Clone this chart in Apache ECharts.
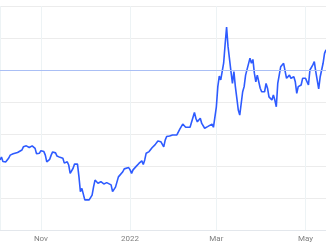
<!DOCTYPE html>
<html>
<head>
<meta charset="utf-8">
<script src="https://cdn.jsdelivr.net/npm/echarts@6/dist/echarts.min.js"></script>
<style>html,body{margin:0;padding:0;background:#fff;}#c{width:326px;height:245px;}</style>
</head>
<body>
<div id="c"></div>
<script>
var dates = [
'2021-10-04','2021-10-05','2021-10-06','2021-10-07','2021-10-08','2021-10-10','2021-10-11','2021-10-13','2021-10-14','2021-10-16',
'2021-10-17','2021-10-19','2021-10-20','2021-10-21','2021-10-22','2021-10-24','2021-10-26','2021-10-27','2021-10-28','2021-10-29',
'2021-10-30','2021-10-31','2021-11-01','2021-11-03','2021-11-04','2021-11-05','2021-11-06','2021-11-07','2021-11-08','2021-11-09',
'2021-11-11','2021-11-12','2021-11-13','2021-11-14','2021-11-16','2021-11-17','2021-11-19','2021-11-20','2021-11-21','2021-11-22',
'2021-11-23','2021-11-24','2021-11-26','2021-11-27','2021-11-28','2021-11-29','2021-12-01','2021-12-02','2021-12-04','2021-12-06',
'2021-12-07','2021-12-08','2021-12-10','2021-12-12','2021-12-14','2021-12-16','2021-12-17','2021-12-19','2021-12-20','2021-12-22',
'2021-12-24','2021-12-25','2021-12-27','2021-12-28','2021-12-31','2022-01-01','2022-01-02','2022-01-03','2022-01-05','2022-01-07',
'2022-01-09','2022-01-10','2022-01-11','2022-01-12','2022-01-14','2022-01-16','2022-01-18','2022-01-20','2022-01-22','2022-01-24',
'2022-01-25','2022-01-26','2022-01-28','2022-01-30','2022-02-02','2022-02-04','2022-02-06','2022-02-08','2022-02-09','2022-02-11',
'2022-02-12','2022-02-14','2022-02-15','2022-02-16','2022-02-18','2022-02-19','2022-02-20','2022-02-21','2022-02-23','2022-02-24',
'2022-02-26','2022-02-27','2022-03-01','2022-03-02','2022-03-03','2022-03-04','2022-03-06','2022-03-07','2022-03-08','2022-03-09',
'2022-03-11','2022-03-12','2022-03-13','2022-03-14','2022-03-15','2022-03-16','2022-03-17','2022-03-19','2022-03-20','2022-03-21',
'2022-03-22','2022-03-24','2022-03-25','2022-03-26','2022-03-27','2022-03-28','2022-03-29','2022-03-31','2022-04-01','2022-04-02',
'2022-04-03','2022-04-04','2022-04-05','2022-04-06','2022-04-08','2022-04-09','2022-04-10','2022-04-11','2022-04-12','2022-04-13',
'2022-04-14','2022-04-16','2022-04-17','2022-04-18','2022-04-20','2022-04-21','2022-04-22','2022-04-23','2022-04-24','2022-04-25',
'2022-04-26','2022-04-28','2022-04-29','2022-05-01','2022-05-03','2022-05-04','2022-05-06','2022-05-07','2022-05-08','2022-05-10',
'2022-05-11','2022-05-12','2022-05-13','2022-05-14','2022-05-15'
];
var values = [
21.9,22.8,21.4,21.9,21.3,22.5,23.4,23.8,23.4,24.2,
24.5,25.0,26.0,25.5,26.3,25.8,26.3,26.6,25.5,23.8,
23.8,24.0,24.8,24.5,23.4,21.3,20.9,22.1,23.4,24.4,
24.1,23.1,22.9,22.7,22.4,20.9,21.3,20.3,17.7,18.2,
19.3,20.6,20.6,16.7,12.0,13.0,9.4,8.8,9.4,10.9,
13.5,15.6,14.6,15.1,14.4,14.8,15.0,14.1,12.0,13.4,
16.6,16.3,18.2,19.1,19.5,18.8,17.7,18.8,19.8,20.8,
21.6,20.5,21.9,24.0,24.5,25.7,26.6,27.8,27.6,26.0,
28.1,29.2,29.4,29.7,29.7,31.5,33.1,32.1,31.5,32.1,
32.1,36.7,34.9,33.8,34.9,33.3,33.8,31.8,32.3,32.5,
33.1,32.1,38.5,44.8,48.1,46.9,52.2,58.1,63.4,57.3,
49.5,45.8,49.5,44.8,41.2,37.5,35.9,43.2,44.8,48.4,
49.0,53.7,52.1,53.3,49.0,46.3,48.4,44.3,43.2,43.8,
43.2,45.8,44.3,41.6,40.6,42.2,40.6,38.5,45.8,48.4,
51.0,52.1,52.1,47.4,48.4,47.4,46.9,47.9,46.3,42.7,
44.8,45.3,47.4,47.4,45.3,50.0,51.6,52.6,49.5,44.1,
47.8,48.4,52.1,55.2,56.3
];
var refLevel = 50;
var monthNames = ['Jan','Feb','Mar','Apr','May','Jun','Jul','Aug','Sep','Oct','Nov','Dec'];

var chart = echarts.init(document.getElementById('c'), null, {renderer: 'canvas'});
var seriesData = dates.map(function (d, i) { return [d, values[i]]; });
var DAY = 24 * 3600 * 1000;
chart.setOption({
  animation: false,
  grid: {left: 0, right: 0, top: 6, bottom: 15, containLabel: false},
  xAxis: {
    type: 'time',
    min: '2021-10-04',
    max: '2022-05-15',
    splitNumber: 3,
    minInterval: 64 * DAY,
    maxInterval: 80 * DAY,
    axisLine: {show: true, lineStyle: {color: '#e3e7ec', width: 1}},
    axisTick: {show: false},
    splitLine: {show: true, lineStyle: {color: '#edf3f5', width: 1}},
    axisLabel: {
      color: '#7f7f7f', fontSize: 8, margin: 5, fontFamily: 'Roboto, sans-serif',
      formatter: function (val) {
        var d = new Date(val);
        return d.getMonth() === 0 ? String(d.getFullYear()) : monthNames[d.getMonth()];
      }
    }
  },
  yAxis: {
    type: 'value',
    min: 0, max: 70, interval: 10,
    axisLabel: {show: false},
    axisLine: {show: false},
    axisTick: {show: false},
    splitLine: {show: true, lineStyle: {color: '#ececec', width: 1}}
  },
  series: [{
    type: 'line',
    data: seriesData,
    showSymbol: false,
    smooth: false,
    lineStyle: {color: '#2e5bff', width: 1.6},
    markLine: {
      silent: true,
      symbol: 'none',
      label: {show: false},
      lineStyle: {color: '#aabff5', type: 'solid', width: 1},
      data: [{yAxis: refLevel}]
    }
  }]
});
</script>
</body>
</html>
